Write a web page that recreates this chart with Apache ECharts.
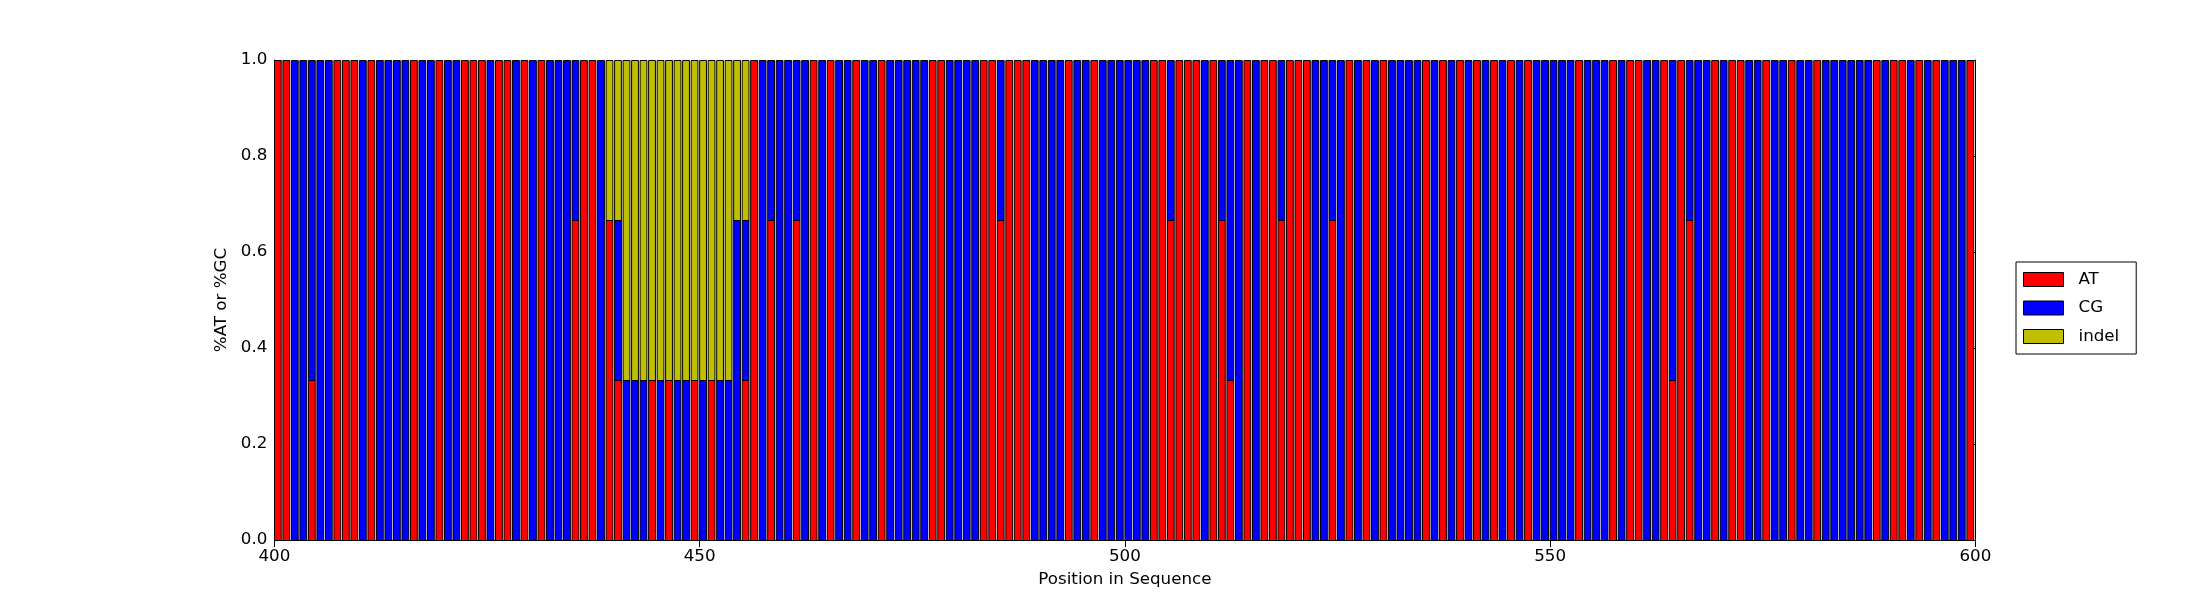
<!DOCTYPE html>
<html>
<head>
<meta charset="utf-8">
<script src="https://cdn.jsdelivr.net/npm/echarts@6/dist/echarts.min.js"></script>
<style>
html,body{margin:0;padding:0;background:#fff;}
#chart{width:2195px;height:600px;}
</style>
</head>
<body>
<div id="chart"></div>
<script>
// ---- data (positions 400..599) ----
const positionStart = 400;
const AT = [
1,1,0,0,0.333,0,0,1,1,1,0,1,0,0,0,0,1,0,0,1,
0,0,1,1,1,0,1,1,0,1,0,1,0,0,0,0.667,1,1,0,0.667,
0.333,0,0,0,0.333,0,0.333,0,0,0.333,0,0.333,0,0,0,0.333,1,0,0.667,0,
0,0.667,0,1,0,1,0,0,1,0,0,1,0,0,0,0,0,1,1,0,
0,0,0,1,1,0.667,1,1,1,0,0,0,0,1,0,0,1,0,0,0,
0,0,0,1,1,0.667,1,1,1,0,1,0.667,0.333,0,1,0,1,1,0.667,1,
1,1,0,0,0.667,0,1,0,1,0,1,0,0,0,0,1,0,1,0,1,
0,1,0,1,0,1,0,1,0,0,0,0,0,1,0,0,0,1,0,1,
1,0,0,1,0.333,1,0.667,0,0,1,0,1,1,0,0,1,0,0,1,0,
0,1,0,0,0,0,0,0,1,0,1,1,0,1,0,1,0,0,0,1
];
const CG = [
0,0,1,1,0.667,1,1,0,0,0,1,0,1,1,1,1,0,1,1,0,
1,1,0,0,0,1,0,0,1,0,1,0,1,1,1,0.333,0,0,1,0,
0.333,0.333,0.333,0.333,0,0.333,0,0.333,0.333,0,0.333,0,0.333,0.333,0.667,0.333,0,1,0.333,1,
1,0.333,1,0,1,0,1,1,0,1,1,0,1,1,1,1,1,0,0,1,
1,1,1,0,0,0.333,0,0,0,1,1,1,1,0,1,1,0,1,1,1,
1,1,1,0,0,0.333,0,0,0,1,0,0.333,0.667,1,0,1,0,0,0.333,0,
0,0,1,1,0.333,1,0,1,0,1,0,1,1,1,1,0,1,0,1,0,
1,0,1,0,1,0,1,0,1,1,1,1,1,0,1,1,1,0,1,0,
0,1,1,0,0.667,0,0.333,1,1,0,1,0,0,1,1,0,1,1,0,1,
1,0,1,1,1,1,1,1,0,1,0,0,1,0,1,0,1,1,1,0
];
const INDEL = [
0,0,0,0,0,0,0,0,0,0,0,0,0,0,0,0,0,0,0,0,
0,0,0,0,0,0,0,0,0,0,0,0,0,0,0,0,0,0,0,0.333,
0.333,0.667,0.667,0.667,0.667,0.667,0.667,0.667,0.667,0.667,0.667,0.667,0.667,0.667,0.333,0.333,0,0,0,0,
0,0,0,0,0,0,0,0,0,0,0,0,0,0,0,0,0,0,0,0,
0,0,0,0,0,0,0,0,0,0,0,0,0,0,0,0,0,0,0,0,
0,0,0,0,0,0,0,0,0,0,0,0,0,0,0,0,0,0,0,0,
0,0,0,0,0,0,0,0,0,0,0,0,0,0,0,0,0,0,0,0,
0,0,0,0,0,0,0,0,0,0,0,0,0,0,0,0,0,0,0,0,
0,0,0,0,0,0,0,0,0,0,0,0,0,0,0,0,0,0,0,0,
0,0,0,0,0,0,0,0,0,0,0,0,0,0,0,0,0,0,0,0
];
const seriesNames = ['AT', 'CG', 'indel'];
const xTicks = [400, 450, 500, 550, 600];
const yTicks = [0.0, 0.2, 0.4, 0.6, 0.8, 1.0];

// ---- styling ----
const COLORS = {AT: '#ff0000', CG: '#0000ff', indel: '#bfbf00'};
const BAR_W = 0.8;
const FONT = 'DejaVu Sans';
const FS = 16.7;

const positions = AT.map((_, i) => positionStart + i);
const stacks = [AT, CG, INDEL];

function seriesData(k) {
  return positions.map((p, i) => {
    let base = 0;
    for (let j = 0; j < k; j++) base += stacks[j][i];
    return [p, base, base + stacks[k][i]];
  });
}

function snap(v) { return Math.round(v) + 0.5; }

function makeRender(color) {
  return function (params, api) {
    const x = api.value(0), y0 = api.value(1), y1 = api.value(2);
    if (!(y1 - y0 > 0)) return;
    const a = api.coord([x, y1]);
    const b = api.coord([x + BAR_W, y0]);
    const yt = snap(a[1]), yb = snap(b[1]);
    return {
      type: 'rect',
      shape: {x: a[0], y: yt, width: b[0] - a[0], height: yb - yt},
      style: {fill: color, stroke: '#000', lineWidth: 1}
    };
  };
}

const chart = echarts.init(document.getElementById('chart'), null, {renderer: 'canvas'});

const axisCommon = {
  axisLine: {show: true, lineStyle: {color: '#000', width: 1}},
  axisTick: {show: true, inside: true, length: 7, lineStyle: {color: '#000', width: 1}},
  splitLine: {show: false}
};

const option = {
  backgroundColor: '#fff',
  animation: false,
  textStyle: {fontFamily: FONT},
  grid: {left: 274.4, top: 60, width: 1701, height: 480, containLabel: false},
  legend: {
    orient: 'vertical',
    left: 2016, top: 262,
    padding: [9, 17, 9, 7],
    itemWidth: 40, itemHeight: 14, itemGap: 11.5,
    borderColor: '#000', borderWidth: 1, borderRadius: 0,
    backgroundColor: '#fff',
    icon: 'rect',
    textStyle: {fontFamily: FONT, fontSize: FS, color: '#000', lineHeight: 17, padding: [0, 0, 0, 10]},
    data: seriesNames.map(n => ({name: n, itemStyle: {color: COLORS[n], borderColor: '#000', borderWidth: 1}}))
  },
  xAxis: [
    Object.assign({
      type: 'value', min: xTicks[0], max: xTicks[xTicks.length - 1], interval: 50,
      position: 'bottom',
      name: 'Position in Sequence', nameLocation: 'middle', nameGap: 31,
      nameTextStyle: {fontFamily: FONT, fontSize: FS, color: '#000'},
      axisLabel: {fontFamily: FONT, fontSize: FS, color: '#000', margin: 8,
        formatter: v => xTicks.includes(v) ? String(v) : ''}
    }, axisCommon),
    Object.assign({
      type: 'value', min: xTicks[0], max: xTicks[xTicks.length - 1], interval: 50,
      position: 'top', axisLabel: {show: false}
    }, axisCommon)
  ],
  yAxis: [
    Object.assign({
      type: 'value', min: 0, max: 1, interval: 0.2, position: 'left',
      name: '%AT or %GC', nameLocation: 'middle', nameGap: 36, nameRotate: 90,
      nameTextStyle: {fontFamily: FONT, fontSize: FS, color: '#000'},
      axisLabel: {fontFamily: FONT, fontSize: FS, color: '#000', margin: 7,
        formatter: v => { const t = yTicks.find(t => Math.abs(t - v) < 1e-9); return t === undefined ? '' : t.toFixed(1); }}
    }, axisCommon),
    Object.assign({
      type: 'value', min: 0, max: 1, interval: 0.2, position: 'right', axisLabel: {show: false}
    }, axisCommon)
  ],
  series: seriesNames.map((n, k) => ({
    name: n,
    type: 'custom',
    xAxisIndex: 0, yAxisIndex: 0,
    clip: true,
    itemStyle: {color: COLORS[n], borderColor: '#000', borderWidth: 1},
    encode: {x: 0, y: [1, 2]},
    renderItem: makeRender(COLORS[n]),
    data: seriesData(k),
    z: 1
  }))
};
chart.setOption(option);
</script>
</body>
</html>
